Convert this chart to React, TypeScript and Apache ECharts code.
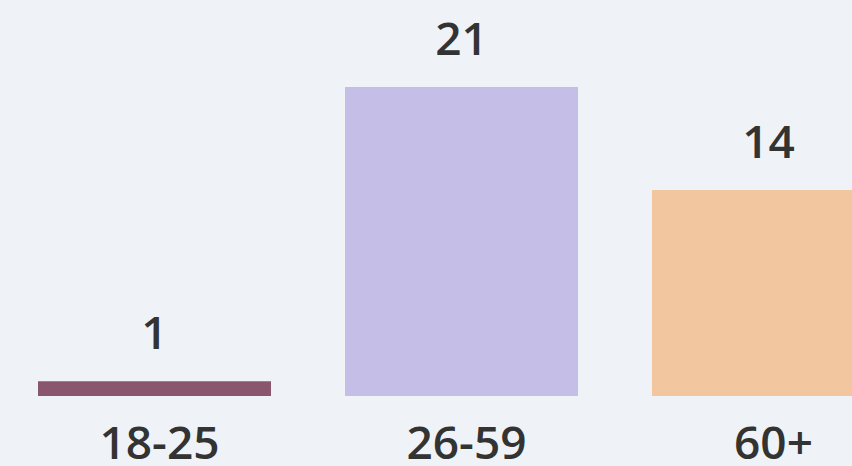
import React, { useEffect, useRef } from "react";
import * as echarts from "echarts";

const ageGroups = ["18-25", "26-59", "60+"];
const counts = [1, 21, 14];
const barColors = ["#8a566d", "#c5bee7", "#f2c7a0"];

const textStyle = {
  fontSize: 46,
  lineHeight: 40,
  fontWeight: 600,
  fontFamily: "Open Sans",
  color: "#333333",
};

export default function App() {
  const ref = useRef<HTMLDivElement>(null);

  useEffect(() => {
    if (!ref.current) return;
    const chart = echarts.init(ref.current, null, { renderer: "svg" });
    chart.setOption({
      animation: false,
      backgroundColor: "#eff3f8",
      grid: { left: 1, right: 0, top: 87, bottom: 70 },
      xAxis: {
        type: "category",
        data: ageGroups,
        axisLine: { show: false },
        axisTick: { show: false },
        axisLabel: { margin: 25, padding: [0, 0, 0, 10], ...textStyle },
      },
      yAxis: {
        type: "value",
        min: 0,
        max: 21,
        show: false,
        splitLine: { show: false },
      },
      series: [
        {
          type: "bar",
          barWidth: 233,
          data: counts.map((v, i) => ({
            value: v,
            itemStyle: { color: barColors[i] },
          })),
          label: {
            show: true,
            position: "top",
            distance: 30,
            ...textStyle,
          },
        },
      ],
    });
    return () => chart.dispose();
  }, []);

  return (
    <div
      ref={ref}
      style={{ position: "fixed", left: 0, top: 0, width: 922, height: 466 }}
    />
  );
}
